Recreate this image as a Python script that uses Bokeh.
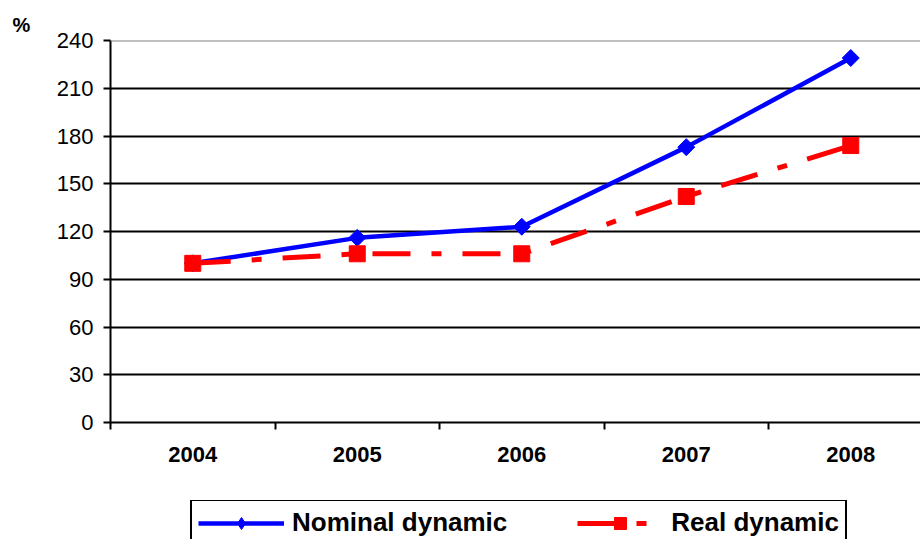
from bokeh.plotting import figure
from bokeh.layouts import column
from bokeh.models import (Range1d, FixedTicker, Legend, LegendItem, Title, Span,
                          CustomJSTickFormatter)
from bokeh.embed import file_html
from bokeh.resources import INLINE

years = ["2004", "2005", "2006", "2007", "2008"]
nominal = [100, 116, 123, 173, 229]
real = [100, 106, 106, 142, 174]
y_ticks = [0, 30, 60, 90, 120, 150, 180, 210, 240]
series_names = ["Nominal dynamic", "Real dynamic"]

xs = [i + 1 for i in range(len(years))]

p = figure(width=920, height=500, output_backend="svg", toolbar_location=None,
           x_range=Range1d(0.5, 5.424), y_range=Range1d(0, 240),
           min_border_left=110, min_border_right=0, min_border_top=40,
           min_border_bottom=78)
p.outline_line_color = None
p.background_fill_color = "white"
p.border_fill_color = "white"

# x axis
p.xaxis.ticker = FixedTicker(ticks=xs, minor_ticks=[x + 0.5 for x in range(0, 6)])
p.xaxis.formatter = CustomJSTickFormatter(args=dict(labels=years),
                                          code="return labels[Math.round(tick) - 1] || '';")
p.xaxis.major_tick_out = 0
p.xaxis.major_tick_in = 0
p.xaxis.minor_tick_out = 7
p.xaxis.minor_tick_in = 0
p.xaxis.minor_tick_line_color = "black"
p.xaxis.minor_tick_line_width = 2
p.xaxis.axis_line_color = "black"
p.xaxis.axis_line_width = 2
p.xaxis.major_label_standoff = 17
p.xaxis.major_label_text_font = "Liberation Sans"
p.xaxis.major_label_text_font_style = "bold"
p.xaxis.major_label_text_font_size = "22px"
p.xaxis.major_label_text_color = "black"

# y axis
p.yaxis.ticker = FixedTicker(ticks=y_ticks, minor_ticks=[])
p.yaxis.major_tick_out = 7
p.yaxis.major_tick_in = 0
p.yaxis.major_tick_line_width = 2
p.yaxis.major_tick_line_color = "black"
p.yaxis.axis_line_color = "black"
p.yaxis.axis_line_width = 2
p.yaxis.major_label_standoff = 10
p.yaxis.major_label_text_font = "Liberation Sans"
p.yaxis.major_label_text_font_size = "22px"
p.yaxis.major_label_text_color = "black"

# grids
p.xgrid.visible = False
p.ygrid.ticker = FixedTicker(ticks=y_ticks[:-1])
p.ygrid.grid_line_color = "black"
p.ygrid.grid_line_width = 2
p.add_layout(Span(location=240, dimension="width", line_color="#808080", line_width=2))

# series
p.line(xs, nominal, line_color="#0000FF", line_width=4.5)
p.scatter(xs, nominal, marker="square", angle=0.785398, size=12,
          fill_color="#0000FF", line_color="#0000FF")
p.line(xs, real, line_color="#FF0000", line_width=5, line_dash="38 21 10 21")
p.scatter(xs, real, marker="square", size=16,
          fill_color="#FF0000", line_color="#FF0000")

# percent label
p.add_layout(Title(text="%", align="left", offset=-98, text_font="Liberation Sans",
                   text_font_style="bold", text_font_size="20px",
                   text_color="black"), "above")

# legend strip below the chart (its data lie outside its ranges, so only the legend shows)
q = figure(width=920, height=39, output_backend="svg", toolbar_location=None,
           x_range=Range1d(-2, -1), y_range=Range1d(-2, -1),
           x_axis_location=None, y_axis_location=None,
           min_border_left=0, min_border_right=0, min_border_top=0, min_border_bottom=0)
q.outline_line_color = None
q.xgrid.visible = False
q.ygrid.visible = False
q.background_fill_color = "white"
q.border_fill_color = "white"

lnl = q.line(xs, nominal, line_color="#0000FF", line_width=4.5)
lnm = q.scatter(xs, nominal, marker="diamond", size=12,
                fill_color="#0000FF", line_color="#0000FF")
lrl = q.line(xs, real, line_color="#FF0000", line_width=5, line_dash="38 21 10 21")
lrm = q.scatter(xs, real, marker="square", size=16,
                fill_color="#FF0000", line_color="#FF0000")

legend = Legend(items=[LegendItem(label=series_names[0], renderers=[lnl, lnm]),
                       LegendItem(label=series_names[1], renderers=[lrl, lrm])],
                orientation="horizontal", location=(80, -7),
                glyph_width=86, glyph_height=30, label_standoff=8, spacing=70,
                padding=6, margin=0,
                label_text_font="Liberation Sans", label_text_font_style="bold",
                label_text_font_size="26px", label_text_color="black",
                border_line_color="black", border_line_width=2, border_line_alpha=1,
                background_fill_alpha=0)
q.add_layout(legend, "center")

layout = column(p, q, spacing=0)
open("out.html", "w").write(file_html(layout, INLINE))
